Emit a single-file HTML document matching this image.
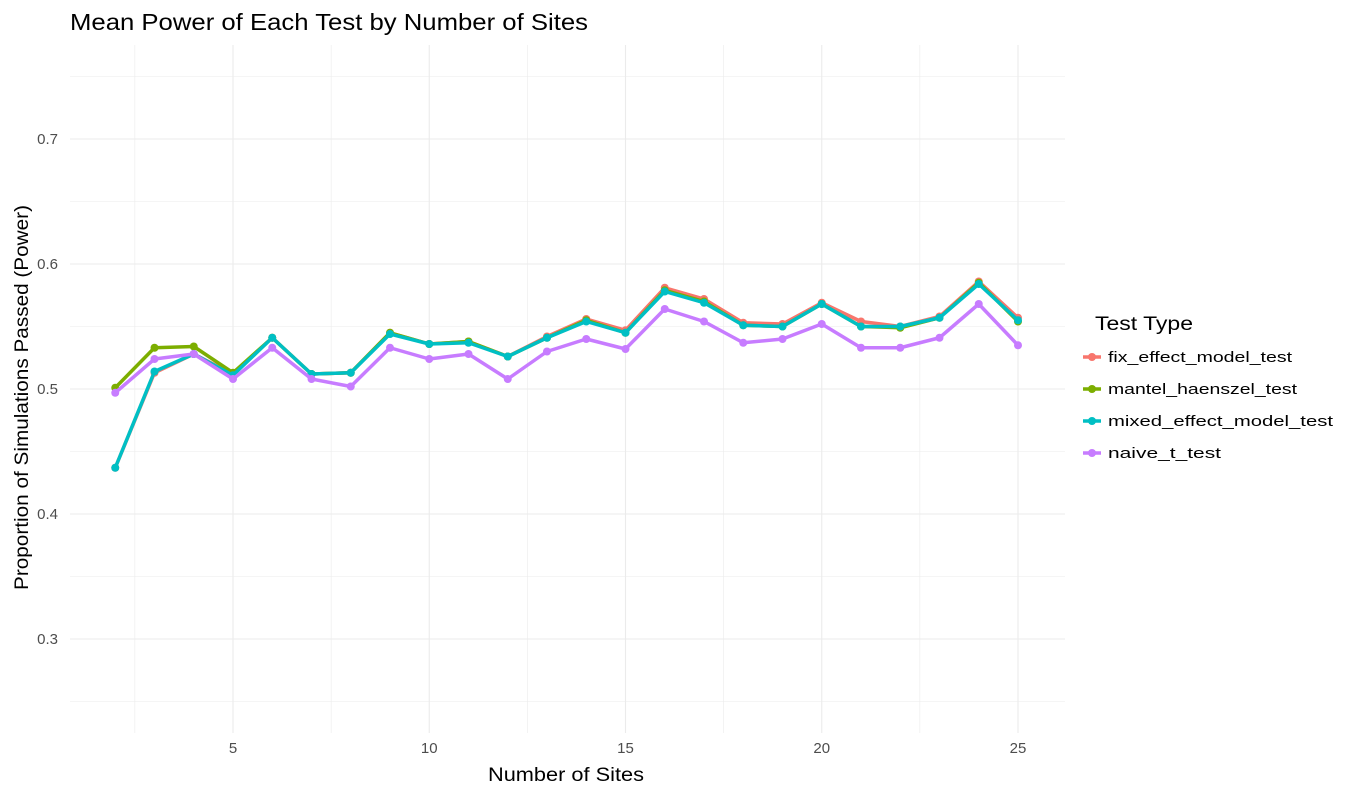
<!DOCTYPE html>
<html><head><meta charset="utf-8"><style>
body{margin:0;background:#fff;font-family:"Liberation Sans",sans-serif;}
</style></head><body>
<svg id="c" width="1354" height="796" xmlns="http://www.w3.org/2000/svg"></svg>
<script>
const sites=[2,3,4,5,6,7,8,9,10,11,12,13,14,15,16,17,18,19,20,21,22,23,24,25];
const fixVals=[.437,.513,.528,.512,.541,.512,.513,.545,.536,.538,.526,.542,.556,.547,.581,.572,.553,.552,.569,.554,.550,.558,.586,.557];
const mantelVals=[.501,.533,.534,.513,.541,.512,.513,.545,.536,.538,.526,.541,.555,.545,.579,.570,.551,.550,.568,.550,.549,.557,.585,.554];
const mixedVals=[.437,.514,.528,.511,.541,.512,.513,.544,.536,.537,.526,.541,.554,.545,.578,.569,.551,.550,.568,.550,.550,.557,.584,.555];
const naiveVals=[.497,.524,.528,.508,.533,.508,.502,.533,.524,.528,.508,.530,.540,.532,.564,.554,.537,.540,.552,.533,.533,.541,.568,.535];
const seriesNames=["fix_effect_model_test","mantel_haenszel_test","mixed_effect_model_test","naive_t_test"];
const xTicks=[5,10,15,20,25];
const yTicks=[0.3,0.4,0.5,0.6,0.7];

const svg=document.getElementById('c');
const NS="http://www.w3.org/2000/svg";
const X=v=>233+(v-5)*39.25;
const Y=v=>389-(v-0.5)*1250;
function mk(t,a,p){const e=document.createElementNS(NS,t);for(const k in a)e.setAttribute(k,a[k]);(p||svg).appendChild(e);return e;}
const L=70,R=1065,T=45,B=733;
for(let v=0.25;v<=0.751;v+=0.1){const l=mk('line',{x1:L,x2:R,y1:Y(v),y2:Y(v),stroke:'#ebebeb','stroke-width':0.6});

}
for(let v=2.5;v<=25;v+=5){const l=mk('line',{x1:X(v),x2:X(v),y1:T,y2:B,stroke:'#ebebeb','stroke-width':0.6});

}
yTicks.forEach(v=>{const l=mk('line',{x1:L,x2:R,y1:Y(v),y2:Y(v),stroke:'#ebebeb','stroke-width':1.1});


const t=mk('text',{x:58,y:Y(v)+5,'text-anchor':'end','font-size':15,fill:'#4d4d4d'});t.textContent=v.toFixed(1);

});
xTicks.forEach(v=>{const l=mk('line',{x1:X(v),x2:X(v),y1:T,y2:B,stroke:'#ebebeb','stroke-width':1.1});


const t=mk('text',{x:X(v),y:753,'text-anchor':'middle','font-size':15,fill:'#4d4d4d'});t.textContent=v;

});
const colors=["#F8766D","#7CAE00","#00BFC4","#C77CFF"];
[fixVals,mantelVals,mixedVals,naiveVals].forEach((vals,i)=>{
 const g=mk('g',{});
 
 
 mk('polyline',{points:sites.map((s,j)=>X(s)+','+Y(vals[j])).join(' '),fill:'none',stroke:colors[i],'stroke-width':3.5,'stroke-linejoin':'round'},g);
 sites.forEach((s,j)=>{const c=mk('circle',{cx:X(s),cy:Y(vals[j]),r:4,fill:colors[i]},g);
 
 });
});
let t=mk('text',{x:70,y:30,'font-size':23,fill:'#000',textLength:518,lengthAdjust:'spacingAndGlyphs'});t.textContent="Mean Power of Each Test by Number of Sites";


t=mk('text',{x:488,y:781,'font-size':19,fill:'#000',textLength:156,lengthAdjust:'spacingAndGlyphs'});t.textContent="Number of Sites";


t=mk('text',{x:28,y:590,'font-size':19,fill:'#000',transform:'rotate(-90 28 590)',textLength:385,lengthAdjust:'spacingAndGlyphs'});t.textContent="Proportion of Simulations Passed (Power)";


t=mk('text',{x:1095,y:330,'font-size':19,fill:'#000',textLength:98,lengthAdjust:'spacingAndGlyphs'});t.textContent="Test Type";


const legendWidths=[184,189,225,113];
seriesNames.forEach((n,i)=>{const y=357+i*32;const g=mk('g',{});
 
 
 mk('line',{x1:1083,x2:1101,y1:y,y2:y,stroke:colors[i],'stroke-width':3.5},g);
 mk('circle',{cx:1092,cy:y,r:4,fill:colors[i]},g);
 const tx=mk('text',{x:1108,y:y+5,'font-size':15,fill:'#000',textLength:legendWidths[i],lengthAdjust:'spacingAndGlyphs'},g);tx.textContent=n;});
</script>
</body></html>
